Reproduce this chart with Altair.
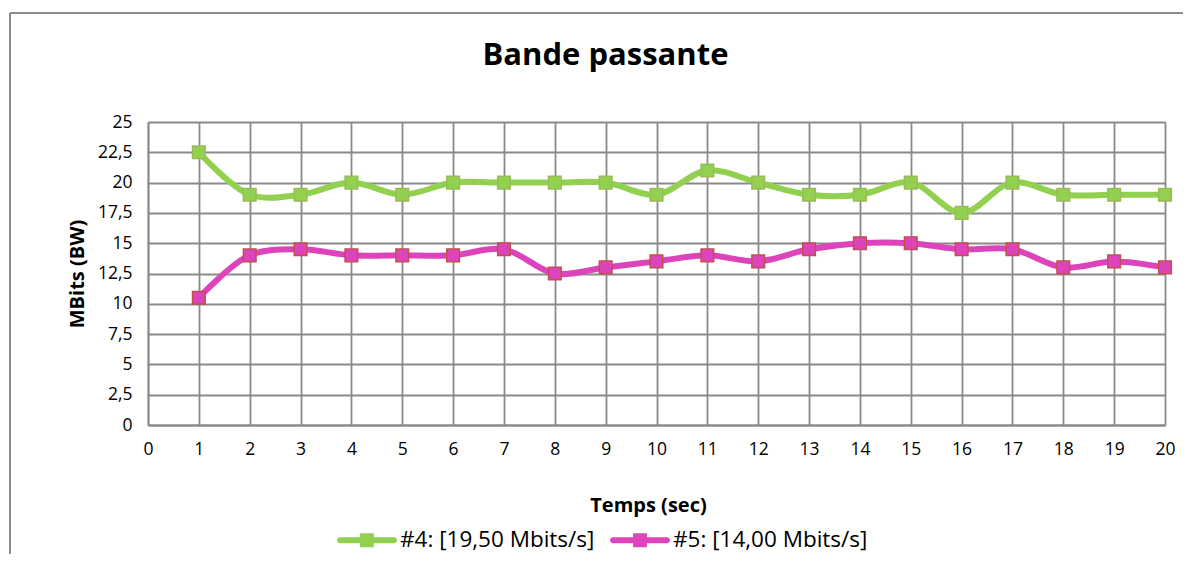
import altair as alt
import pandas as pd

# ---- data ----
temps = list(range(1, 21))
serie4 = [22.5, 19, 19, 20, 19, 20, 20, 20, 20, 19, 21, 20, 19, 19, 20, 17.5, 20, 19, 19, 19]
serie5 = [10.5, 14, 14.5, 14, 14, 14, 14.5, 12.5, 13, 13.5, 14, 13.5, 14.5, 15, 15, 14.5, 14.5, 13, 13.5, 13]
series_names = ["#4: [19,50 Mbits/s]", "#5: [14,00 Mbits/s]"]
line_colors = ["#92D050", "#DD44BB"]
marker_strokes = ["#9BBB59", "#C0504D"]
x_ticks = list(range(0, 21))
y_ticks = [0, 2.5, 5, 7.5, 10, 12.5, 15, 17.5, 20, 22.5, 25]

rows = []
for name, vals in zip(series_names, [serie4, serie5]):
    for t, v in zip(temps, vals):
        rows.append({"serie": name, "temps": t, "bw": v})
df = pd.DataFrame(rows)

FONT = "Open Sans"
GRID = "#8a8a8a"
W, H = 1017, 303

x_enc = alt.X(
    "temps:Q",
    scale=alt.Scale(domain=[0, 20], nice=False, zero=False),
    axis=alt.Axis(
        values=x_ticks, title="Temps (sec)", ticks=False, labelFlush=False,
        labelOverlap=False, labelPadding=15, labelFontSize=17.5, labelFont=FONT,
        labelColor="black", titleFont=FONT, titleFontSize=20, titleFontWeight="bold",
        titleColor="black", titleX=500, titleY=86, titleAlign="center",
        titleBaseline="alphabetic",
        domainColor=GRID, domainWidth=1.8, gridColor=GRID, gridWidth=1.8, gridOpacity=1,
    ),
)
y_enc = alt.Y(
    "bw:Q",
    scale=alt.Scale(domain=[0, 25], nice=False),
    axis=alt.Axis(
        values=y_ticks, title="MBits (BW)", ticks=False, labelOverlap=False,
        labelExpr="replace(toString(datum.value), '.', ',')",
        labelPadding=16, labelFontSize=17.5, labelFont=FONT, labelColor="black",
        titleFont=FONT, titleFontSize=20, titleFontWeight="bold", titleColor="black",
        titleX=-71, titleY=H / 2, titleAngle=-90, titleAlign="center", titleBaseline="middle",
        domainColor=GRID, domainWidth=1.8, gridColor=GRID, gridWidth=1.8, gridOpacity=1,
    ),
)

color_scale = alt.Scale(domain=series_names, range=line_colors)

legend_symbol = (
    "M-0.9,-0.1 L0.9,-0.1 A0.1,0.1 0 0 1 0.9,0.1 L-0.9,0.1 A0.1,0.1 0 0 1 -0.9,-0.1 Z "
    "M-0.23,-0.23 L0.23,-0.23 L0.23,0.23 L-0.23,0.23 Z"
)

base = alt.Chart(df)

layers = []
# smoothed lines, one per series
for name, col in zip(series_names, line_colors):
    layers.append(
        base.transform_filter(alt.datum.serie == name)
        .mark_line(interpolate="catmull-rom", strokeWidth=6, color=col)
        .encode(x=x_enc, y=y_enc)
    )

# markers carrying the legend
layers.append(
    base.mark_point(shape="square", filled=True, size=160, opacity=1, strokeWidth=0).encode(
        x=x_enc, y=y_enc,
        fill=alt.Fill(
            "serie:N", scale=color_scale,
            legend=alt.Legend(
                title=None, orient="none", direction="horizontal", legendX=189, legendY=388,
                symbolType=legend_symbol, symbolSize=3600, symbolStrokeWidth=0, symbolOpacity=1,
                labelFont=FONT, labelFontSize=22.5, labelColor="black", labelOffset=3,
                labelLimit=0, columnPadding=15, padding=0, columns=2,
            ),
        ),
    )
)
# marker outlines per series
for name, col, st in zip(series_names, line_colors, marker_strokes):
    layers.append(
        base.transform_filter(alt.datum.serie == name)
        .mark_point(shape="square", filled=True, size=160, opacity=1, strokeWidth=1.5,
                    fill=col, stroke=st)
        .encode(x=x_enc, y=y_enc)
    )

frame_df = pd.DataFrame({"k": [0]})
frame_top = alt.Chart(frame_df).mark_rule(color="#8c8c8c", strokeWidth=2).encode(
    x=alt.value(-138), x2=alt.value(1043), y=alt.value(-109)
)
frame_left = alt.Chart(frame_df).mark_rule(color="#8c8c8c", strokeWidth=2).encode(
    x=alt.value(-138), y=alt.value(-109), y2=alt.value(444)
)

chart = (
    alt.layer(frame_top, frame_left, *layers)
    .properties(
        width=W, height=H,
        title=alt.Title(
            "Bande passante", font=FONT, fontSize=31, fontWeight="bold", color="black",
            anchor="middle", frame="group", offset=-84, dx=-51, baseline="alphabetic",
        ),
        autosize=alt.AutoSizeParams(type="none"),
        padding={"left": 140, "top": 114, "right": 18, "bottom": 129},
    )
    .configure_view(stroke=GRID, strokeWidth=1.8)
    .configure(background="white")
)

chart.save("out.html", embed_options={"renderer": "svg", "actions": False})
